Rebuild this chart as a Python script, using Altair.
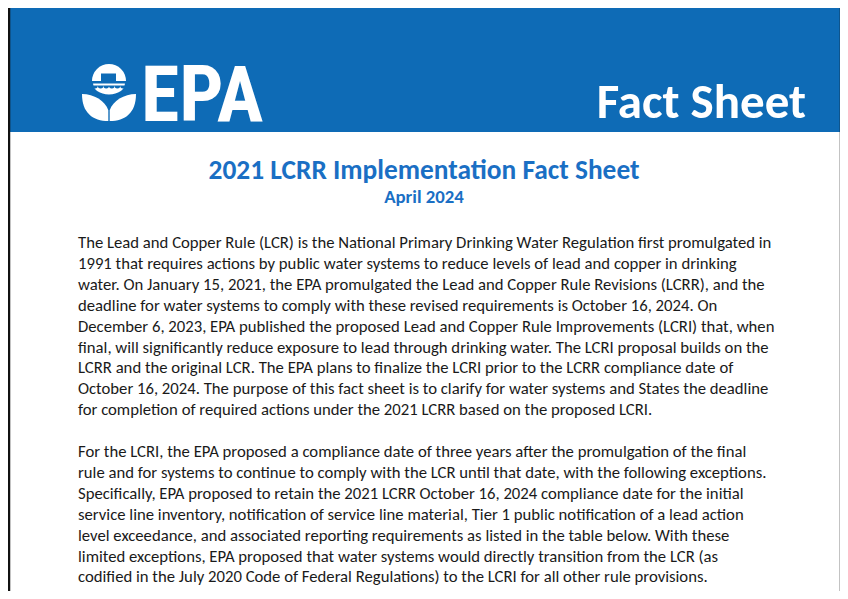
import altair as alt
import pandas as pd

W, H = 832, 583

logo_word = ["EPA"]
header_right = ["Fact Sheet"]
title_lines = ["2021 LCRR Implementation Fact Sheet"]
subtitle_lines = ["April 2024"]

para1 = [
    "The Lead and Copper Rule (LCR) is the National Primary Drinking Water Regulation first promulgated in",
    "1991 that requires actions by public water systems to reduce levels of lead and copper in drinking",
    "water. On January 15, 2021, the EPA promulgated the Lead and Copper Rule Revisions (LCRR), and the",
    "deadline for water systems to comply with these revised requirements is October 16, 2024. On",
    "December 6, 2023, EPA published the proposed Lead and Copper Rule Improvements (LCRI) that, when",
    "final, will significantly reduce exposure to lead through drinking water. The LCRI proposal builds on the",
    "LCRR and the original LCR. The EPA plans to finalize the LCRI prior to the LCRR compliance date of",
    "October 16, 2024. The purpose of this fact sheet is to clarify for water systems and States the deadline",
    "for completion of required actions under the 2021 LCRR based on the proposed LCRI.",
]
para2 = [
    "For the LCRI, the EPA proposed a compliance date of three years after the promulgation of the final",
    "rule and for systems to continue to comply with the LCR until that date, with the following exceptions.",
    "Specifically, EPA proposed to retain the 2021 LCRR October 16, 2024 compliance date for the initial",
    "service line inventory, notification of service line material, Tier 1 public notification of a lead action",
    "level exceedance, and associated reporting requirements as listed in the table below. With these",
    "limited exceptions, EPA proposed that water systems would directly transition from the LCR (as",
    "codified in the July 2020 Code of Federal Regulations) to the LCRI for all other rule provisions.",
]

# page-pixel coordinate scales (page has 8px margin)
xs = alt.Scale(domain=[8, 8 + W], range=[0, W], nice=False, zero=False)
ys = alt.Scale(domain=[8, 8 + H], range=[0, H], nice=False, zero=False)
X = lambda f: alt.X(f, type="quantitative", scale=xs, axis=None)
Y = lambda f: alt.Y(f, type="quantitative", scale=ys, axis=None)

BLUE = "#0E6BB6"
TBLUE = "#1A6FC4"
FONT = "Carlito, Calibri, Lato, sans-serif"

# frame and header
box = pd.DataFrame({"x": [10], "x2": [840], "y": [6], "y2": [132]})
header = alt.Chart(box).mark_rect(color=BLUE).encode(
    x=X("x"), x2="x2", y=Y("y"), y2="y2")

frame = pd.DataFrame({"x": [9, 841, 9], "x2": [9, 841, 841], "y": [5, 5, 5], "y2": [599, 599, 5]})
frame_ch = alt.Chart(frame).mark_rule(color="#111111", strokeWidth=2.5).encode(
    x=X("x"), x2="x2", y=Y("y"), y2="y2")

# logo icon: dome with head
discs = pd.DataFrame({
    "x": [109, 108.5, 108.5],
    "y": [81, 73.5, 73.5],
    "r": [17, 7.5, 4.2],
    "t1": [4.71239, 0, 0],
    "t2": [7.85398, 6.28318, 6.28318],
    "c": ["white", BLUE, "white"],
})
discs["o"] = range(len(discs))
icon_arcs = alt.Chart(discs).mark_arc().encode(
    x=X("x"), y=Y("y"), radius=alt.Radius("r:Q", scale=None),
    theta=alt.Theta("t1:Q", scale=None), theta2="t2",
    color=alt.Color("c:N", scale=None), order="o:O")

neck = pd.DataFrame({"x": [101], "x2": [116], "y": [73.5], "y2": [81]})
neck_ch = alt.Chart(neck).mark_rect(color=BLUE).encode(
    x=X("x"), x2="x2", y=Y("y"), y2="y2")

# petals
petals = pd.DataFrame({
    "x": [95.5, 122.5],
    "y": [107.5, 107.5],
    "shape": [
        "M -1 -1 C -1 0.4 -0.2 1 0.95 1 L 0.95 0.2 C 0.7 -0.5 -0.1 -1 -1 -1 Z",
        "M 1 -1 C 1 0.4 0.2 1 -0.95 1 L -0.95 0.2 C -0.7 -0.5 0.1 -1 1 -1 Z",
    ],
})
petal_ch = alt.Chart(petals).mark_point(filled=True, color="white", opacity=1, size=730).encode(
    x=X("x"), y=Y("y"), shape=alt.Shape("shape:N", scale=None))

# bowl below the dome
bowl = pd.DataFrame({"x": [109], "y": [89],
                     "shape": ["M -1 -0.38 L 1 -0.38 C 1 0.12 0.55 0.38 0 0.38 C -0.55 0.38 -1 0.12 -1 -0.38 Z"]})
bowl_ch = alt.Chart(bowl).mark_point(filled=True, color="white", opacity=1, size=1156,
                                     stroke=BLUE, strokeWidth=2).encode(
    x=X("x"), y=Y("y"), shape=alt.Shape("shape:N", scale=None))

waves = pd.DataFrame({"x": [95, 100.6, 106.2, 111.8, 117.4, 123], "y": [85.5] * 6})
wave_ch = alt.Chart(waves).mark_arc(color=BLUE).encode(
    x=X("x"), y=Y("y"), radius=alt.value(2.9),
    theta=alt.value(1.5708), theta2=alt.value(4.71239))

logo = alt.Chart(pd.DataFrame({"t": logo_word, "x": [141], "y": [121]})).mark_text(
    font="Roboto Condensed, Roboto, sans-serif", fontWeight="bold",
    fontSize=78, color="white", align="left", baseline="alphabetic").encode(
    x=X("x"), y=Y("y"), text="t:N")

fact = alt.Chart(pd.DataFrame({"t": header_right, "x": [806], "y": [118]})).mark_text(
    font=FONT, fontWeight="bold", fontSize=49, color="white",
    align="right", baseline="alphabetic").encode(x=X("x"), y=Y("y"), text="t:N")

title = alt.Chart(pd.DataFrame({"t": title_lines, "x": [424], "y": [179]})).mark_text(
    font=FONT, fontWeight="bold", fontSize=27.4, color=TBLUE,
    align="center", baseline="alphabetic").encode(x=X("x"), y=Y("y"), text="t:N")

sub = alt.Chart(pd.DataFrame({"t": subtitle_lines, "x": [424], "y": [203]})).mark_text(
    font=FONT, fontWeight="bold", fontSize=18.8, color=TBLUE,
    align="center", baseline="alphabetic").encode(x=X("x"), y=Y("y"), text="t:N")

lines = para1 + [""] + para2
body_df = pd.DataFrame({"t": lines, "k": range(len(lines))})
body = alt.Chart(body_df).transform_calculate(
    yy="248 + 20.9 * datum.k", xx="78").mark_text(
    font=FONT, fontSize=16.7, color="#1a1a1a",
    align="left", baseline="alphabetic").encode(x=X("xx"), y=Y("yy"), text="t:N")

chart = alt.layer(header, frame_ch, icon_arcs, neck_ch, petal_ch, bowl_ch, wave_ch,
                  logo, fact, title, sub, body).properties(
    width=W, height=H, padding=0, autosize=alt.AutoSizeParams(type="none")
).configure_view(stroke=None).configure(background="white")

chart.save("out.html", embed_options={"renderer": "svg", "actions": False})
